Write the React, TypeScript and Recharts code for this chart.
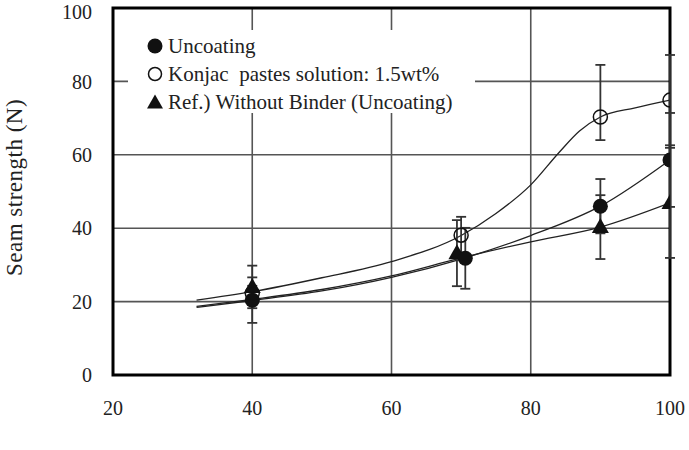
import React from 'react';
import {
  ComposedChart,
  Scatter,
  Line,
  XAxis,
  YAxis,
  CartesianGrid,
  ErrorBar,
  ReferenceArea,
  Label,
} from 'recharts';

// Axis ticks
const xTicks = [20, 40, 60, 80, 100];
const yTicks = [0, 20, 40, 60, 80, 100];

// Measured points (mean seam strength with standard deviation)
const uncoatingPoints = [
  { x: 40, y: 20.4, err: 6.2 },
  { x: 70.6, y: 31.8, err: 8.3 },
  { x: 90, y: 46, err: 7.4 },
  { x: 100, y: 58.6, err: 12.8 },
];
const konjacPoints = [
  { x: 40, y: 22.3, err: 2 },
  { x: 70, y: 38.1, err: 5 },
  { x: 90, y: 70.3, err: [6.3, 14.2] },
  { x: 100, y: 74.9, err: 12.3 },
];
const withoutBinderPoints = [
  { x: 40, y: 24, err: 5.8 },
  { x: 69.4, y: 33.2, err: 9 },
  { x: 90, y: 40.3, err: 8.7 },
  { x: 100, y: 46.9, err: 15 },
];

// Fitted trend curves
const konjacCurve = [
  { x: 32, y: 20.4 },
  { x: 40, y: 22.7 },
  { x: 50, y: 26.5 },
  { x: 60, y: 30.9 },
  { x: 70, y: 38 },
  { x: 75, y: 44 },
  { x: 80, y: 51.8 },
  { x: 84, y: 60.5 },
  { x: 87, y: 66.5 },
  { x: 90, y: 70.3 },
  { x: 95, y: 72.8 },
  { x: 100, y: 74.9 },
];
const uncoatingCurve = [
  { x: 32, y: 18.4 },
  { x: 40, y: 20.3 },
  { x: 50, y: 22.9 },
  { x: 60, y: 26.6 },
  { x: 70, y: 31.6 },
  { x: 80, y: 38 },
  { x: 90, y: 46 },
  { x: 100, y: 58.6 },
];
const withoutBinderCurve = [
  { x: 32, y: 18.7 },
  { x: 40, y: 20.6 },
  { x: 50, y: 23.3 },
  { x: 60, y: 27 },
  { x: 70, y: 31.9 },
  { x: 80, y: 36.3 },
  { x: 90, y: 40.3 },
  { x: 100, y: 46.9 },
];

const legendLabels = [
  'Uncoating',
  'Konjac  pastes solution: 1.5wt%',
  'Ref.) Without Binder (Uncoating)',
];

const FONT =
  '"Liberation Serif", Tinos, "Times New Roman", Times, "DejaVu Serif", "Noto Serif", serif';
const INK = '#111';

const FilledCircle = (p: any) => <circle cx={p.cx} cy={p.cy} r={7.5} fill={INK} />;
const OpenCircle = (p: any) => (
  <circle cx={p.cx} cy={p.cy} r={7} fill="none" stroke={INK} strokeWidth={1.5} />
);
const Triangle = (p: any) => (
  <polygon
    points={`${p.cx},${p.cy - 9} ${p.cx + 8.5},${p.cy + 6} ${p.cx - 8.5},${p.cy + 6}`}
    fill={INK}
  />
);

const LegendMarker = ({ kind }: { kind: number }) => (
  <svg width={18} height={18} style={{ display: 'block' }}>
    {kind === 0 && <circle cx={9} cy={9} r={7.5} fill={INK} />}
    {kind === 1 && <circle cx={9} cy={9} r={6.5} fill="none" stroke={INK} strokeWidth={1.5} />}
    {kind === 2 && <polygon points="9,1.5 17,15.5 1,15.5" fill={INK} />}
  </svg>
);

const renderYLabel = (props: any) => {
  const vb = props.viewBox || { x: 0, y: 8, width: 113, height: 367 };
  const cx = 14;
  const cy = vb.y + vb.height / 2 - 4;
  return (
    <text
      x={cx}
      y={cy}
      transform={`rotate(-90 ${cx} ${cy})`}
      textAnchor="middle"
      dominantBaseline="central"
      style={{ fontFamily: FONT }}
      fontSize={23}
      letterSpacing={0.5}
      fill="#222"
    >
      Seam strength (N)
    </text>
  );
};

const tickStyle = { fontFamily: FONT, fontSize: 20, fill: '#222' };

export default function App() {
  return (
    <div
      style={{
        position: 'absolute',
        left: 0,
        top: 0,
        width: 689,
        height: 450,
        background: '#fff',
        fontFamily: FONT,
      }}
    >
      <ComposedChart
        width={689}
        height={450}
        margin={{ top: 8, right: 19, bottom: 35, left: 0 }}
        style={{ fontFamily: FONT }}
      >
        <CartesianGrid stroke="#555" strokeWidth={1.6} />
        <XAxis
          type="number"
          dataKey="x"
          domain={[20, 100]}
          ticks={xTicks}
          axisLine={false}
          tickLine={false}
          tickSize={0}
          tickMargin={26}
          height={40}
          tick={tickStyle}
          allowDataOverflow
        />
        <YAxis
          type="number"
          dataKey="y"
          domain={[0, 100]}
          ticks={yTicks}
          axisLine={false}
          tickLine={false}
          tickSize={0}
          tickMargin={21}
          width={113}
          tick={tickStyle}
          allowDataOverflow
        >
          <Label content={renderYLabel} />
        </YAxis>

        <Line
          data={konjacCurve}
          dataKey="y"
          type="monotone"
          stroke="#222"
          strokeWidth={1.3}
          dot={false}
          isAnimationActive={false}
        />
        <Line
          data={uncoatingCurve}
          dataKey="y"
          type="monotone"
          stroke="#222"
          strokeWidth={1.3}
          dot={false}
          isAnimationActive={false}
        />
        <Line
          data={withoutBinderCurve}
          dataKey="y"
          type="monotone"
          stroke="#222"
          strokeWidth={1.3}
          dot={false}
          isAnimationActive={false}
        />

        <Scatter data={withoutBinderPoints} shape={Triangle} isAnimationActive={false}>
          <ErrorBar dataKey="err" direction="y" width={5} stroke="#333" strokeWidth={1.8} />
        </Scatter>
        <Scatter data={uncoatingPoints} shape={FilledCircle} isAnimationActive={false}>
          <ErrorBar dataKey="err" direction="y" width={5} stroke="#333" strokeWidth={1.8} />
        </Scatter>
        <Scatter data={konjacPoints} shape={OpenCircle} isAnimationActive={false}>
          <ErrorBar dataKey="err" direction="y" width={5} stroke="#333" strokeWidth={1.8} />
        </Scatter>

        <ReferenceArea
          x1={20}
          x2={100}
          y1={0}
          y2={100}
          fill="none"
          fillOpacity={0}
          stroke="#000"
          strokeWidth={3}
        />
      </ComposedChart>

      <div
        style={{
          position: 'absolute',
          left: 128,
          top: 30,
          width: 347,
          height: 83,
          background: '#fff',
          fontFamily: FONT,
          fontSize: 21,
          color: '#222',
        }}
      >
        {legendLabels.map((label, i) => (
          <div
            key={label}
            style={{
              position: 'absolute',
              left: 18,
              top: 2 + i * 28,
              height: 28,
              display: 'flex',
              alignItems: 'center',
              whiteSpace: 'pre',
            }}
          >
            <LegendMarker kind={i} />
            <span style={{ marginLeft: 4, lineHeight: '28px' }}>{label}</span>
          </div>
        ))}
      </div>
    </div>
  );
}
